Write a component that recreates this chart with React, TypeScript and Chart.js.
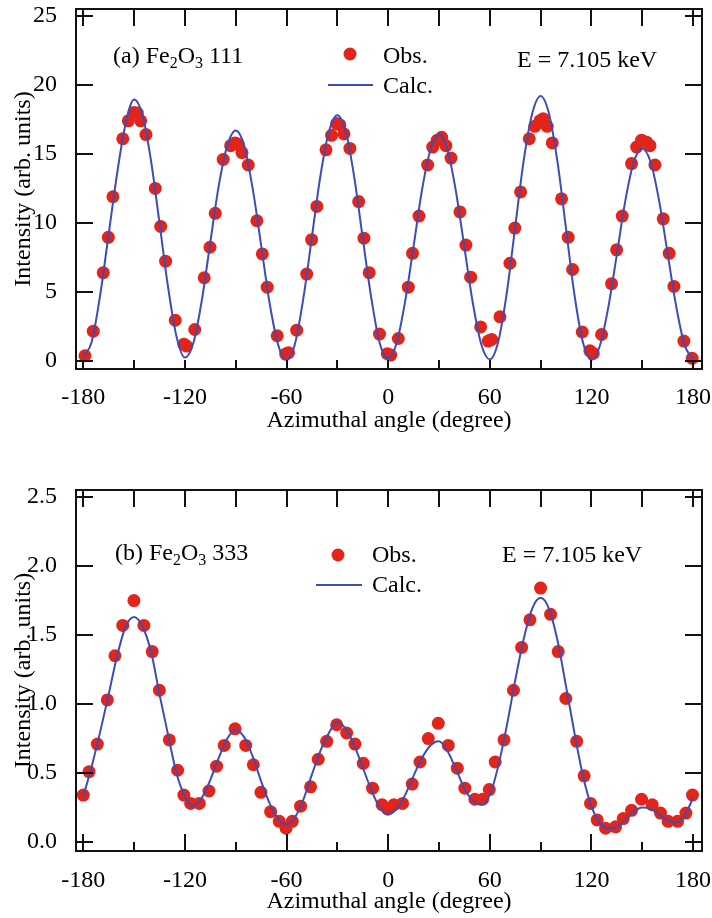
import React, { useEffect, useRef } from 'react';
import { Chart, registerables } from 'chart.js';

Chart.register(...registerables);

// ---------- Panel (a): Fe2O3 111 ----------
const obsAngleA = [
  -179, -174.1, -168.2, -165.2, -162.5, -156.7, -153.4, -150.1, -148.1, -146.1, -143, -137.5,
  -134.3, -131.4, -125.7, -120.6, -119, -114.2, -108.6, -105.2, -102.1, -97.4, -93, -90.4,
  -88.5, -86.3, -82.6, -77.5, -74.3, -71.4, -65.5, -60.5, -58.8, -54, -48.1, -45.2, -42.1,
  -36.7, -33.4, -30.4, -28.5, -26.1, -22.6, -17.4, -14.3, -11.2, -5.1, -0.5, 1.5, 6, 11.9,
  14.4, 18.2, 23.3, 26.3, 29, 31.6, 34.1, 37.1, 42.4, 45.9, 48.7, 54.6, 59.1, 61.1, 66, 71.9,
  74.8, 78.2, 83.3, 86.6, 89.6, 91.5, 93.9, 96.9, 102.4, 106.3, 108.9, 114.6, 119.1, 121.1,
  126, 131.9, 134.9, 138.2, 143.7, 146.7, 149.6, 152.6, 154.6, 157.5, 162.4, 165.9, 168.7,
  174.6, 179.5,
];
const obsIntensityA = [
  0.38, 2.16, 6.4, 8.96, 11.9, 16.1, 17.4, 18.0, 17.96, 17.4, 16.4, 12.5,
  9.75, 7.23, 2.95, 1.22, 1.08, 2.28, 6.03, 8.24, 10.7, 14.6, 15.6, 15.8,
  15.7, 15.1, 14.2, 10.16, 7.76, 5.35, 1.83, 0.5, 0.6, 2.23, 6.3, 8.79, 11.2,
  15.3, 16.35, 17.2, 17.1, 16.45, 15.4, 11.55, 8.9, 6.4, 1.95, 0.53, 0.43, 1.63, 5.35,
  7.8, 10.5, 14.2, 15.5, 16.0, 16.2, 15.6, 14.7, 10.8, 8.4, 6.07, 2.47, 1.44, 1.56, 3.2, 7.08,
  9.63, 12.25, 16.1, 17.0, 17.4, 17.55, 17.0, 15.8, 11.75, 8.96, 6.63, 2.1, 0.74, 0.55,
  1.92, 5.6, 8.05, 10.5, 14.3, 15.5, 16.0, 15.85, 15.6, 14.2, 10.3, 7.8, 5.4,
  1.44, 0.19,
];
const calcAngleA = [
  -180, -175, -170, -165, -160, -155, -150, -145, -140, -135, -130, -125, -120, -115, -110,
  -105, -100, -95, -90, -85, -80, -75, -70, -65, -60, -55, -50, -45, -40, -35, -30, -25,
  -20, -15, -10, -5, 0, 5, 10, 15, 20, 25, 30, 35, 40, 45, 50, 55, 60, 65, 70, 75, 80, 85,
  90, 95, 100, 105, 110, 115, 120, 125, 130, 135, 140, 145, 150, 155, 160, 165, 170, 175, 180,
];
const calcIntensityA = [
  0.3, 1.4, 4.8, 9.2, 13.6, 17.2, 18.95, 17.8, 14.5, 10.0, 5.4, 1.8, 0.25, 1.3, 4.4,
  8.6, 12.7, 15.6, 16.7, 15.6, 12.5, 8.4, 4.2, 1.2, 0.07, 1.25, 4.6, 9.0, 13.4, 16.6, 17.8, 16.6,
  13.3, 8.9, 4.6, 1.3, 0.2, 1.3, 4.3, 8.3, 12.4, 15.3, 16.4, 15.3, 12.3, 8.25, 4.2, 1.2, 0.12, 1.4, 4.9, 9.7, 14.5, 17.9,
  19.2, 17.9, 14.4, 9.6, 4.8, 1.35, 0.07, 1.1, 3.9, 7.7, 11.6, 14.4, 15.4, 14.4, 11.6, 7.8, 4.0, 1.15, 0.15,
];
const yTicksA = [0, 5, 10, 15, 20, 25];
const yTickLabelsA = ['0', '5', '10', '15', '20', '25'];

// ---------- Panel (b): Fe2O3 333 ----------
const obsAngleB = [
  -180, -176.6, -171.7, -165.8, -161.3, -156.7, -150.1, -144.2, -139.3, -135.1, -129.2, -124.3,
  -120.6, -116.6, -111.5, -105.8, -101.3, -96.8, -90.4, -84.1, -79.6, -75.1, -69.4, -64.3,
  -60.3, -56.6, -51.7, -45.8, -41.3, -36.3, -30.4, -24.5, -19.6, -14.7, -9.2, -3.6, -0.4,
  3.4, 8.5, 14.2, 18.8, 23.7, 29.6, 35.5, 40.8, 45.3, 51.2, 55.8, 59.7, 63.2, 68.4, 74,
  78.8, 83.7, 90, 95.9, 100.4, 104.9, 111.3, 115.7, 119.5, 123.4, 128.4, 134.3, 138.8,
  143.7, 149.6, 155.9, 160.8, 165.3, 170.9, 175.8, 179.7,
];
const obsIntensityB = [
  0.34, 0.51, 0.71, 1.03, 1.35, 1.57, 1.75, 1.57, 1.38, 1.10, 0.74, 0.52,
  0.34, 0.28, 0.28, 0.37, 0.55, 0.70, 0.82, 0.70, 0.56, 0.36, 0.22, 0.15,
  0.10, 0.15, 0.26, 0.40, 0.60, 0.73, 0.85, 0.79, 0.71, 0.57, 0.39, 0.27, 0.24,
  0.27, 0.28, 0.42, 0.58, 0.75, 0.86, 0.70, 0.535, 0.39, 0.31, 0.31, 0.38, 0.58, 0.74, 1.10,
  1.41, 1.61, 1.84, 1.65, 1.38, 1.04, 0.73, 0.48, 0.28, 0.16, 0.10, 0.11, 0.17,
  0.23, 0.31, 0.27, 0.21, 0.15, 0.15, 0.21, 0.34,
];
const calcAngleB = calcAngleA;
const calcIntensityB = [
  0.33, 0.55, 0.80, 1.07, 1.35, 1.56, 1.63, 1.56, 1.38, 1.07, 0.78, 0.50, 0.33, 0.26, 0.32,
  0.45, 0.61, 0.75, 0.81, 0.76, 0.62, 0.44, 0.28, 0.17, 0.13, 0.18, 0.31, 0.49, 0.66, 0.79, 0.87, 0.82,
  0.70, 0.54, 0.38, 0.25, 0.20, 0.24, 0.34, 0.48, 0.61, 0.70, 0.73, 0.66, 0.53, 0.39, 0.30, 0.27, 0.34, 0.55, 0.84, 1.17, 1.47, 1.69,
  1.77, 1.69, 1.46, 1.13, 0.79, 0.48, 0.26, 0.14, 0.10, 0.11, 0.16, 0.22, 0.25, 0.24, 0.20, 0.16, 0.14, 0.19, 0.32,
];
const yTicksB = [0, 0.5, 1.0, 1.5, 2.0, 2.5];
const yTickLabelsB = ['0.0', '0.5', '1.0', '1.5', '2.0', '2.5'];

// ---------- shared ----------
const xTickAll = [-180, -150, -120, -90, -60, -30, 0, 30, 60, 90, 120, 150, 180];
const xTickLabelled = [-180, -120, -60, 0, 60, 120, 180];
const xTitle = 'Azimuthal angle (degree)';
const yTitle = 'Intensity (arb. units)';
const legendObs = 'Obs.';
const legendCalc = 'Calc.';
const energyText = 'E = 7.105 keV';

const RED = '#e1251b';
const BLUE = '#3d4db7';
const FAMILY = '"Liberation Serif", "Times New Roman", serif';
const FS = 24;

type Panel = {
  obsX: number[]; obsY: number[]; calcX: number[]; calcY: number[];
  yTicks: number[]; yLabels: string[]; yMin: number; yMax: number;
  padTop: number; xScaleH: number; titlePadBottom: number; xTickPad: number;
  bottomMinorLen: number; bottomMajorLen: number;
  labelParts: [string, string, string, string, string];
  labelX: number; labelBase: number;
  dotX: number; dotY: number; lineX1: number; lineX2: number; lineY: number;
  textX: number; obsBase: number; calcBase: number;
  eX: number; eBase: number;
};

function drawSubText(ctx: CanvasRenderingContext2D, parts: string[], x: number, base: number) {
  let cx = x;
  parts.forEach((p, i) => {
    const sub = i === 1 || i === 3;
    ctx.font = `${sub ? 16 : FS}px ${FAMILY}`;
    ctx.fillText(p, cx, base + (sub ? 5 : 0));
    cx += ctx.measureText(p).width;
  });
}

function makePlugin(p: Panel) {
  return {
    id: 'frameAndNotes',
    afterDraw(chart: any) {
      const { ctx, chartArea: a, scales } = chart;
      const x = scales.x, y = scales.y;
      ctx.save();
      ctx.strokeStyle = '#111';
      ctx.lineWidth = 2;
      ctx.beginPath();
      ctx.rect(a.left, a.top, a.right - a.left, a.bottom - a.top);
      ctx.stroke();
      ctx.beginPath();
      xTickAll.forEach((v) => {
        const px = Math.round(x.getPixelForValue(v));
        const major = xTickLabelled.includes(v);
        const lb = major ? p.bottomMajorLen : p.bottomMinorLen;
        ctx.moveTo(px, a.bottom);
        ctx.lineTo(px, a.bottom - lb);
        ctx.moveTo(px, a.top);
        ctx.lineTo(px, a.top + 17);
      });
      p.yTicks.forEach((v) => {
        const py = Math.round(y.getPixelForValue(v));
        ctx.moveTo(a.left, py);
        ctx.lineTo(a.left + 17, py);
        ctx.moveTo(a.right, py);
        ctx.lineTo(a.right - 17, py);
      });
      ctx.stroke();

      // annotation + legend
      ctx.fillStyle = '#000';
      ctx.textBaseline = 'alphabetic';
      ctx.textAlign = 'left';
      drawSubText(ctx, p.labelParts, p.labelX, p.labelBase);
      ctx.font = `${FS}px ${FAMILY}`;
      ctx.fillText(legendObs, p.textX, p.obsBase);
      ctx.fillText(legendCalc, p.textX, p.calcBase);
      ctx.fillText(energyText, p.eX, p.eBase);
      ctx.fillStyle = RED;
      ctx.beginPath();
      ctx.arc(p.dotX, p.dotY, 6.5, 0, Math.PI * 2);
      ctx.fill();
      ctx.strokeStyle = BLUE;
      ctx.lineWidth = 2;
      ctx.beginPath();
      ctx.moveTo(p.lineX1, p.lineY);
      ctx.lineTo(p.lineX2, p.lineY);
      ctx.stroke();
      ctx.restore();
    },
  };
}

function buildChart(canvas: HTMLCanvasElement, p: Panel) {
  const font = { family: FAMILY, size: FS };
  return new Chart(canvas, {
    type: 'scatter',
    data: {
      datasets: [
        {
          label: legendCalc,
          data: p.calcX.map((v, i) => ({ x: v, y: p.calcY[i] })),
          showLine: true,
          borderColor: BLUE,
          borderWidth: 2,
          pointRadius: 0,
          cubicInterpolationMode: 'monotone',
          order: 0,
        } as any,
        {
          label: legendObs,
          data: p.obsX.map((v, i) => ({ x: v, y: p.obsY[i] })),
          backgroundColor: RED,
          borderWidth: 0,
          pointRadius: 6.5,
          pointHoverRadius: 6.5,
          order: 1,
        } as any,
      ],
    },
    options: {
      responsive: false,
      animation: false,
      devicePixelRatio: 1,
      events: [],
      layout: { padding: { top: p.padTop, right: 10, left: 0, bottom: 0 } },
      plugins: { legend: { display: false }, tooltip: { enabled: false } },
      scales: {
        x: {
          type: 'linear',
          min: -184.3,
          max: 185.3,
          grid: { display: false },
          border: { display: false },
          afterBuildTicks: (s: any) => { s.ticks = xTickLabelled.map((v) => ({ value: v })); },
          afterFit: (s: any) => { s.height = p.xScaleH; s.paddingLeft = 0; s.paddingRight = 0; },
          ticks: { font, color: '#000', padding: p.xTickPad, maxRotation: 0, minRotation: 0, autoSkip: false },
          title: { display: true, text: xTitle, font, color: '#000', padding: { top: 0, bottom: p.titlePadBottom } },
        },
        y: {
          type: 'linear',
          min: p.yMin,
          max: p.yMax,
          grid: { display: false },
          border: { display: false },
          afterBuildTicks: (s: any) => { s.ticks = p.yTicks.map((v) => ({ value: v })); },
          afterFit: (s: any) => { s.width = 76; s.paddingTop = 0; s.paddingBottom = 0; },
          ticks: {
            font, color: '#000', padding: 11,
            callback: (v: any) => { const i = p.yTicks.indexOf(Number(v)); return i >= 0 ? p.yLabels[i] : ''; },
          },
          title: { display: true, text: yTitle, font, color: '#000', padding: { top: 9, bottom: 0 } },
        },
      },
    } as any,
    plugins: [makePlugin(p)],
  });
}

const panelA: Panel = {
  obsX: obsAngleA, obsY: obsIntensityA, calcX: calcAngleA, calcY: calcIntensityA,
  yTicks: yTicksA, yLabels: yTickLabelsA, yMin: -0.58, yMax: 25.5,
  padTop: 9, xScaleH: 71, titlePadBottom: 5, xTickPad: 6,
  bottomMinorLen: 9, bottomMajorLen: 9,
  labelParts: ['(a) Fe', '2', 'O', '3', ' 111'],
  labelX: 113, labelBase: 63,
  dotX: 350, dotY: 54, lineX1: 328, lineX2: 373, lineY: 85,
  textX: 383, obsBase: 63, calcBase: 93,
  eX: 517, eBase: 67,
};

const panelB: Panel = {
  obsX: obsAngleB, obsY: obsIntensityB, calcX: calcAngleB, calcY: calcIntensityB,
  yTicks: yTicksB, yLabels: yTickLabelsB, yMin: -0.065, yMax: 2.551,
  padTop: 50, xScaleH: 67, titlePadBottom: 2, xTickPad: 7,
  bottomMinorLen: 9, bottomMajorLen: 17,
  labelParts: ['(b) Fe', '2', 'O', '3', ' 333'],
  labelX: 115, labelBase: 120,
  dotX: 338, dotY: 115, lineX1: 316, lineX2: 362, lineY: 145,
  textX: 372, obsBase: 122, calcBase: 152,
  eX: 502, eBase: 122,
};

export default function App() {
  const topRef = useRef<HTMLCanvasElement>(null);
  const botRef = useRef<HTMLCanvasElement>(null);
  useEffect(() => {
    const c1 = buildChart(topRef.current!, panelA);
    const c2 = buildChart(botRef.current!, panelB);
    return () => { c1.destroy(); c2.destroy(); };
  }, []);
  return (
    <div style={{ position: 'absolute', left: 0, top: 0, width: 712, height: 918, background: '#fff' }}>
      <canvas ref={topRef} width={712} height={440}
        style={{ position: 'absolute', left: 0, top: 0, width: 712, height: 440, display: 'block' }} />
      <canvas ref={botRef} width={712} height={478}
        style={{ position: 'absolute', left: 0, top: 440, width: 712, height: 478, display: 'block' }} />
    </div>
  );
}
